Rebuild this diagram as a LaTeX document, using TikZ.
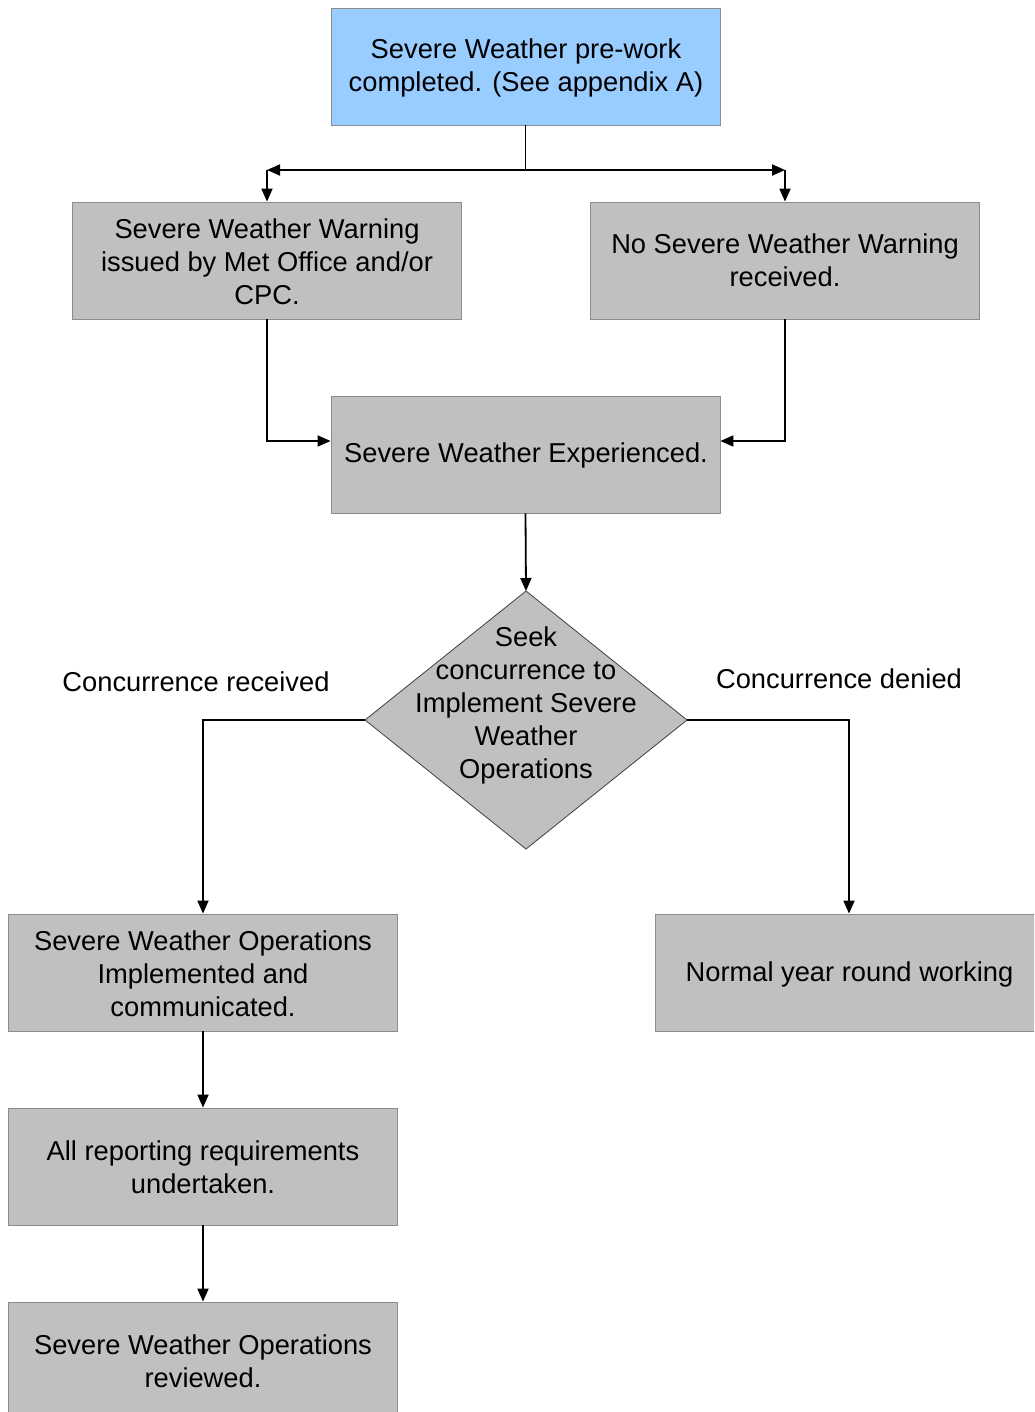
\documentclass[tikz,border=0pt]{standalone}
\usepackage{fontspec}
\setmainfont{Liberation Sans}
\usetikzlibrary{arrows.meta}
\definecolor{boxgray}{HTML}{C0C0C0}
\definecolor{boxblue}{HTML}{99CCFF}
\definecolor{edgegray}{HTML}{8C8C8C}
\begin{document}
\begin{tikzpicture}[x=1pt,y=-1pt,
  every node/.style={font=\fontsize{27.3}{33}\selectfont, align=center, inner sep=0pt},
  procbox/.style={draw=edgegray, line width=0.8pt, fill=boxgray, minimum width=389pt, minimum height=117pt},
  conn/.style={line width=1.8pt, -{Triangle[length=13pt,width=11pt]}},
  plain/.style={line width=1.8pt}]
\useasboundingbox (0,0) rectangle (1034,1412);
\clip (0,0) rectangle (1034,1412);

\node[procbox, fill=boxblue] (pre) at (525.5,66.5) {};
\node (pretxt) at (526,68) {Severe Weather pre-work\\completed. (See appendix A)};
\node[procbox] (warn) at (266.5,260.5) {};
\node (warntxt) at (267,261.5) {Severe Weather Warning\\issued by Met Office and/or\\CPC.};
\node[procbox] (nowarn) at (784.5,260.5) {};
\node (nowarntxt) at (785,260) {No Severe Weather Warning\\received.};
\node[procbox] (exp) at (525.5,454.5) {};
\node (exptxt) at (526,455.5) {Severe Weather Experienced.};

\coordinate (dt) at (526,591);
\coordinate (dl) at (365,720);
\coordinate (dr) at (687,720);
\coordinate (db) at (526,849);
\filldraw[fill=boxgray, draw=black!75, line width=0.8pt] (dt) -- (dr) -- (db) -- (dl) -- cycle;
\node (dia) at (526,705.5) {Seek\\concurrence to\\Implement Severe\\Weather\\Operations};

\node[procbox] (impl) at (202.5,972.5) {};
\node (impltxt) at (203,973.5) {Severe Weather Operations\\Implemented and\\communicated.};
\node[procbox] (normal) at (849.5,972.5) {};
\node (normaltxt) at (849.5,974) {Normal year round working};
\node[procbox] (report) at (202.5,1166.5) {};
\node (reporttxt) at (203,1167) {All reporting requirements\\undertaken.};
\node[procbox] (review) at (202.5,1360.5) {};
\node (reviewtxt) at (203,1361) {Severe Weather Operations\\reviewed.};

\node (lrec) at (196,681.5) {Concurrence received};
\node (lden) at (839,678.5) {Concurrence denied};

\coordinate (cl) at (267,170);
\coordinate (cr) at (785,170);
\draw[conn] (pre.south) |- (cl);
\draw[conn] (pre.south) |- (cr);
\draw[conn] (cl) -- (warn.north -| cl);
\draw[conn] (cr) -- (nowarn.north -| cr);

\draw[conn] (warn.south -| cl) |- (exp.west |- 0,441);
\draw[conn] (nowarn.south -| cr) |- (exp.east |- 0,441);
\draw[conn] (exp.south) -- (dt);

\draw[conn] (dl) -| (impl.north -| 203,0);
\draw[conn] (dr) -| (normal.north -| 849,0);

\draw[conn] (impl.south -| 203,0) -- (report.north -| 203,0);
\draw[conn] (report.south -| 203,0) -- (review.north -| 203,0);
\end{tikzpicture}
\end{document}
